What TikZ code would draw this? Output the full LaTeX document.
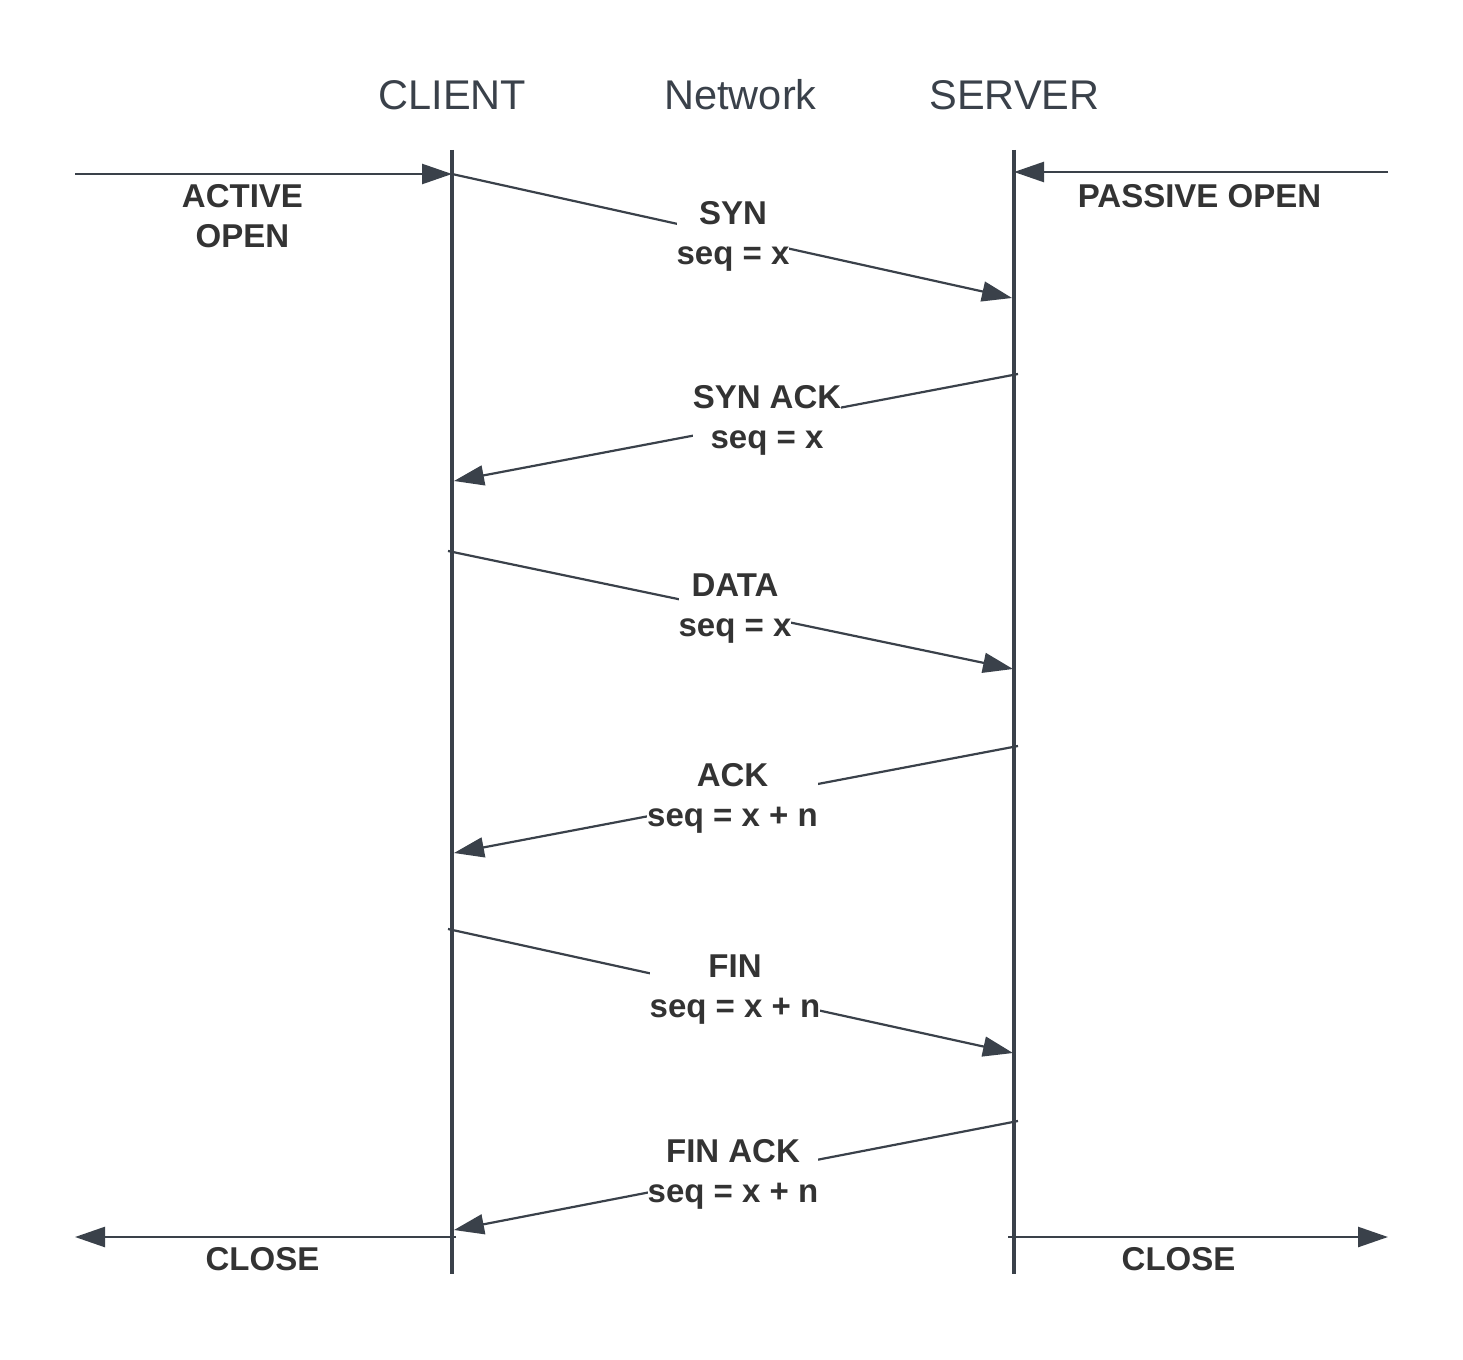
\documentclass[tikz,border=0pt]{standalone}
\usepackage{fontspec}
\setmainfont{Liberation Sans}
\usetikzlibrary{arrows.meta}
\definecolor{lineC}{HTML}{3A414A}
\definecolor{txtC}{HTML}{333333}
\begin{document}
\begin{tikzpicture}[x=1pt,y=-1pt,
  life/.style={draw=lineC, line width=3.5pt},
  msg/.style={draw=lineC, line width=2.2pt, -{Triangle[length=30pt,width=20pt]}},
  edgeA/.style={draw=lineC, line width=2.5pt, -{Triangle[length=30pt,width=20pt]}},
  lbl/.style={fill=white, inner sep=0pt, align=center, text=txtC, font=\fontsize{33}{40}\selectfont\bfseries},
  head/.style={text=lineC, inner sep=0pt, anchor=base, font=\fontsize{41.5}{48}\selectfont}]
\fill[white] (0,0) rectangle (1463,1359);
\useasboundingbox (0,0) rectangle (1463,1359);

% headers
\node[head] (client) at (452.5,110) {CLIENT};
\node[head] (network) at (740.5,110) {Network};
\node[head] (server) at (1014.5,110) {SERVER};

% coordinates
\coordinate (cT) at (452,150);
\coordinate (cB) at (452,1274);
\coordinate (sT) at (1014,150);
\coordinate (sB) at (1014,1274);
\coordinate (ao0) at (75,174);
\coordinate (ao1) at (452,174);
\coordinate (po0) at (1388,172);
\coordinate (po1) at (1014,172);
\coordinate (syn1) at (1012,298);
\coordinate (sa0) at (1018,374);
\coordinate (sa1) at (454,481);
\coordinate (d0) at (448,551);
\coordinate (d1) at (1013,669);
\coordinate (a0) at (1018,746);
\coordinate (a1) at (454,853);
\coordinate (f0) at (448,929);
\coordinate (f1) at (1013,1053);
\coordinate (fa0) at (1018,1121);
\coordinate (fa1) at (454,1230);
\coordinate (cl0) at (456,1237);
\coordinate (cl1) at (75,1237);
\coordinate (cr0) at (1008,1237);
\coordinate (cr1) at (1388,1237);

% open / close arrows
\draw[edgeA] (ao0) -- (ao1);
\draw[edgeA] (po0) -- (po1);
\draw[edgeA] (cl0) -- (cl1);
\draw[edgeA] (cr0) -- (cr1);

% messages
\draw[msg] (ao1) -- (syn1);
\draw[msg] (sa0) -- (sa1);
\draw[msg] (d0) -- (d1);
\draw[msg] (a0) -- (a1);
\draw[msg] (f0) -- (f1);
\draw[msg] (fa0) -- (fa1);

% lifelines
\draw[life] (cT) -- (cB);
\draw[life] (sT) -- (sB);

% labels
\node[lbl] (lao) at (242.5,216) {ACTIVE\\OPEN};
\node[lbl] (lpo) at (1199.5,196.5) {PASSIVE OPEN};
\node[lbl] (lsyn) at (733,236) {SYN\\seq = x};
\node[lbl] (lsa) at (767,420.5) {SYN ACK\\seq = x};
\node[lbl] (ldata) at (735,609) {DATA\\seq = x};
\node[lbl] (lack) at (732.5,798.5) {ACK\\seq = x + n};
\node[lbl] (lfin) at (735,989.5) {FIN\\seq = x + n};
\node[lbl] (lfa) at (733,1174.5) {FIN ACK\\seq = x + n};
\node[lbl] (lcl) at (262.5,1259) {CLOSE};
\node[lbl] (lcr) at (1178.5,1259) {CLOSE};
\end{tikzpicture}
\end{document}
